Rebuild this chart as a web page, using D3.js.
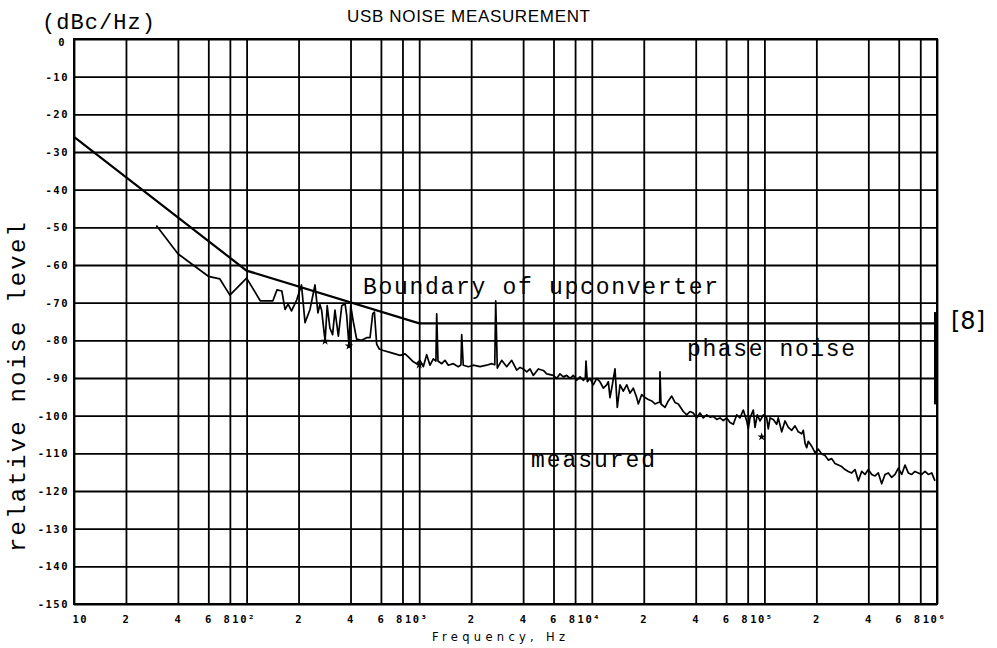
<!DOCTYPE html>
<html>
<head>
<meta charset="utf-8">
<script src="https://cdn.jsdelivr.net/npm/d3@7"></script>
<style>
  html, body { margin: 0; padding: 0; background: #fff; }
  svg { display: block; }
</style>
</head>
<body>
<svg id="chart" width="997" height="648"></svg>
<script>
// ---- data ---------------------------------------------------------------
const xTicks = [10, 20, 40, 60, 80, 100, 200, 400, 600, 800, 1e3, 2e3, 4e3, 6e3, 8e3,
                1e4, 2e4, 4e4, 6e4, 8e4, 1e5, 2e5, 4e5, 6e5, 8e5, 1e6];
const xTickLabels = ["10", "2", "4", "6", "8", "10²", "2", "4", "6", "8", "10³", "2", "4", "6", "8",
                     "10⁴", "2", "4", "6", "8", "10⁵", "2", "4", "6", "8", "10⁶"];
const yTicks = [0, -10, -20, -30, -40, -50, -60, -70, -80, -90, -100, -110, -120, -130, -140, -150];
const yTickLabels = ["0", "-10", "-20", "-30", "-40", "-50", "-60", "-70", "-80", "-90",
                     "-100", "-110", "-120", "-130", "-140", "-150"];

// upconverter boundary (Hz, dBc/Hz)
const boundaryHz = [10, 100, 1000, 1e6];
const boundaryDb = [-26, -61.5, -75.5, -75.5];

// measured USB noise (Hz, dBc/Hz)
const measured = [
  [30, -49.5], [40, -57], [60, -63], [70, -63.7], [80, -68], [100, -63.5], [120, -69.5], [142, -69.5],
  [150, -66.6], [160, -66.9], [167, -71.8], [174, -70.4], [182, -72.2], [195, -69.3], [208, -65.3],
  [218, -75.3], [233, -71.8], [249, -65.3], [259, -72.7], [266, -70.5], [272, -72], [285, -80.2],
  [293, -70.8], [304, -76.8], [315, -78.5], [325, -72], [340, -78.9], [356, -70.8], [372, -70.3],
  [380, -73.3], [392, -81.5], [401, -70.8], [415, -75], [434, -79.7], [464, -80], [496, -79.3],
  [519, -79.3], [538, -72.9], [550, -72.5], [567, -81], [587, -82.3], [620, -82.7], [677, -83.2],
  [724, -83.6], [774, -84], [828, -83.6], [865, -84.4], [925, -85.7], [967, -86.2], [1010, -85.3],
  [1056, -87], [1105, -83.8], [1155, -86.6], [1207, -84.9], [1250, -85.5], [1263, -73], [1285, -85.5],
  [1350, -86.2], [1410, -85.3], [1475, -86.6], [1576, -86.2], [1685, -87], [1745, -86.5], [1763, -78.5],
  [1800, -86.6], [1925, -87], [2058, -86.6], [2250, -87], [2460, -86.6], [2630, -86.2], [2740, -86.5],
  [2775, -69.5], [2835, -87.4], [3006, -85.3], [3213, -87], [3435, -85.3], [3673, -87.9],
  [3840, -87.2], [4010, -87.6], [4200, -88.4], [4385, -87.6], [4580, -89.3], [4900, -87.6],
  [5240, -88], [5480, -88.9], [5730, -89.1], [5985, -89.3], [6260, -90.1], [6540, -88.9],
  [6840, -89.7], [7155, -89.3], [7480, -90.1], [7815, -89.3], [8175, -90.6], [8545, -89.7],
  [8930, -90.6], [9170, -90.1], [9255, -85.5], [9420, -91], [9765, -90.1], [10200, -91.8],
  [10680, -90.1], [11150, -91], [11660, -92.7], [12200, -91.8], [12470, -91], [12750, -95.2],
  [13150, -91.8], [13630, -87.6], [14050, -97.8], [14570, -91.8], [15220, -93.5], [15930, -91.8],
  [16650, -94], [17400, -92.7], [18200, -95.2], [18600, -96.9], [19460, -94.4], [20340, -95.2],
  [21250, -95.7], [22230, -96.1], [23240, -96.9], [24290, -96.5], [24740, -96.5], [24840, -88.4],
  [25170, -96.9], [26550, -97.8], [27750, -96.1], [29040, -94.8], [30340, -96.5], [31710, -96.9],
  [33890, -98.9], [35460, -99.8], [37060, -98.9], [38730, -99.3], [40530, -100.6], [42350, -99.3],
  [44260, -100.6], [46330, -99.8], [48410, -100.4], [50590, -100.2], [52930, -101], [55310, -100.6],
  [57800, -101.3], [60480, -100.6], [63200, -101.8], [66050, -102.3], [69100, -99.8], [72220, -100.6],
  [75470, -98.5], [78980, -101.4], [80670, -103.5], [82530, -100.6], [86240, -98.5], [88210, -103.1],
  [90960, -99.8], [94300, -101.4], [98540, -99.8], [103100, -100.6], [105300, -103.5], [107800, -100.6],
  [112600, -101], [117800, -102.3], [120300, -100.6], [126000, -104.3], [131600, -101.4], [137600, -103.1],
  [144000, -103.9], [150400, -102.7], [157200, -104.3], [164500, -104.8], [168100, -103.9], [171900, -107.3],
  [175800, -108.5], [179600, -106.8], [187900, -108.1], [196400, -109.8], [205300, -108.9], [214800, -110.2],
  [224500, -110.6], [234600, -111.8], [245400, -111.4], [256500, -112.7], [268100, -113.1], [280500, -113.5],
  [293100, -114.3], [306300, -114.8], [320500, -115.2], [335000, -114.3], [350000, -117.3], [366300, -114.8],
  [382800, -115.6], [399900, -114.3], [418600, -115.6], [437400, -116], [457100, -115.2], [478200, -118.1],
  [499800, -115.6], [522300, -115.2], [546600, -116.4], [571200, -115.6], [596900, -113.9], [624500, -115.6],
  [652700, -113.1], [682000, -115.2], [713600, -115.6], [745600, -114.8], [779300, -115.2], [815500, -115.6],
  [852100, -114.8], [890600, -115.6], [931800, -115.2], [973600, -117.3]
];

// plotter marker positions (Hz, dBc/Hz)
const markers = [[285, -80.2], [392, -81.5], [1000, -86.5], [96400, -105.6]];

// phase-noise range quoted from reference [8] (dBc/Hz)
const refRangeDb = [-72.5, -97];

// ---- layout -------------------------------------------------------------
const svg = d3.select("#chart");
const plotLeft = 74, plotRight = 937, plotTop = 39, plotBottom = 604;

const x = d3.scaleLog().domain([10, 1e6]).range([plotLeft, plotRight]);
const y = d3.scaleLinear().domain([-150, 0]).range([plotBottom, plotTop]);

const tickFont = "'DejaVu Sans Mono', monospace";
const typeFont = "'Liberation Mono', 'Courier New', monospace";

// ---- grid via axes ------------------------------------------------------
const gx = svg.append("g")
  .attr("transform", `translate(0,${plotBottom})`)
  .call(d3.axisBottom(x)
    .tickValues(xTicks)
    .tickFormat((d, i) => xTickLabels[i])
    .tickSize(-(plotBottom - plotTop))
    .tickPadding(12));

const gy = svg.append("g")
  .attr("transform", `translate(${plotLeft},0)`)
  .call(d3.axisLeft(y)
    .tickValues(yTicks)
    .tickFormat((d, i) => yTickLabels[i])
    .tickSize(-(plotRight - plotLeft))
    .tickPadding(5));

[gx, gy].forEach(g => {
  g.select(".domain").remove();
  g.selectAll(".tick line").attr("stroke", "#000").attr("stroke-width", 1.8);
  g.selectAll(".tick text")
    .attr("fill", "#000")
    .style("font-family", tickFont)
    .style("font-weight", "bold")
    .style("font-size", "10.5px")
    .style("letter-spacing", "1.5px");
});

// nudge the crowded "8 10ⁿ" pairs apart, and start the first label at the frame
gx.selectAll(".tick text").each(function (d, i) {
  const t = d3.select(this);
  const lab = xTickLabels[i];
  if (i === 0) t.attr("text-anchor", "start").attr("x", -2);
  else if (lab === "8") t.attr("x", -3);
  else if (lab.startsWith("10")) t.attr("x", -3);
});

// the "0" label sits just below the unit caption
gy.selectAll(".tick text").filter(d => d === 0).attr("x", -8).attr("dy", "0.6em");

// frame
svg.append("rect")
  .attr("x", plotLeft).attr("y", plotTop)
  .attr("width", plotRight - plotLeft).attr("height", plotBottom - plotTop)
  .attr("fill", "none").attr("stroke", "#000").attr("stroke-width", 2);

// ---- curves -------------------------------------------------------------
const boundary = boundaryHz.map((f, i) => [f, boundaryDb[i]]);
const line = d3.line().x(d => x(d[0])).y(d => y(d[1]));

svg.append("path")
  .datum(boundary)
  .attr("d", line)
  .attr("fill", "none").attr("stroke", "#000").attr("stroke-width", 2.2);

svg.append("path")
  .datum(measured)
  .attr("d", line)
  .attr("fill", "none").attr("stroke", "#000").attr("stroke-width", 1.7)
  .attr("stroke-linejoin", "round");

svg.append("g").selectAll("path")
  .data(markers)
  .join("path")
  .attr("transform", d => `translate(${x(d[0])},${y(d[1])})`)
  .attr("d", d3.symbol().type(d3.symbolStar).size(22))
  .attr("fill", "#000");

// reference [8] range bar at the right edge
svg.append("line")
  .attr("x1", x(1e6) - 1.5).attr("x2", x(1e6) - 1.5)
  .attr("y1", y(refRangeDb[0])).attr("y2", y(refRangeDb[1]))
  .attr("stroke", "#000").attr("stroke-width", 3);

// ---- text ---------------------------------------------------------------
svg.append("text")
  .attr("x", 347).attr("y", 21.5)
  .attr("textLength", 243).attr("lengthAdjust", "spacing")
  .style("font-family", "'Liberation Sans', Arial, sans-serif")
  .style("font-size", "17px")
  .text("USB NOISE MEASUREMENT");

svg.append("text")
  .attr("x", 42).attr("y", 29)
  .attr("textLength", 113).attr("lengthAdjust", "spacing")
  .style("font-family", typeFont).style("font-size", "22px")
  .text("(dBc/Hz)");

svg.append("text")
  .attr("transform", "translate(25,387) rotate(-90)")
  .attr("text-anchor", "middle")
  .attr("textLength", 330).attr("lengthAdjust", "spacing")
  .style("font-family", typeFont).style("font-size", "24px")
  .text("relative noise level");

svg.append("text")
  .attr("x", 432).attr("y", 641)
  .attr("textLength", 133).attr("lengthAdjust", "spacing")
  .style("font-family", "'DejaVu Sans', sans-serif").style("font-size", "11.5px")
  .text("Frequency, Hz");

const notes = [
  { t: "Boundary of upconverter", x: 363, y: 294, w: 355 },
  { t: "phase noise", x: 687, y: 356, w: 168 },
  { t: "measured", x: 531, y: 467, w: 124 }
];
svg.append("g").selectAll("text")
  .data(notes)
  .join("text")
  .attr("x", d => d.x).attr("y", d => d.y)
  .attr("textLength", d => d.w).attr("lengthAdjust", "spacing")
  .style("font-family", typeFont).style("font-size", "23px")
  .text(d => d.t);

svg.append("text")
  .attr("x", 951).attr("y", 329)
  .style("font-family", "'DejaVu Sans', sans-serif").style("font-size", "24px")
  .text("[8]");
</script>
</body>
</html>
